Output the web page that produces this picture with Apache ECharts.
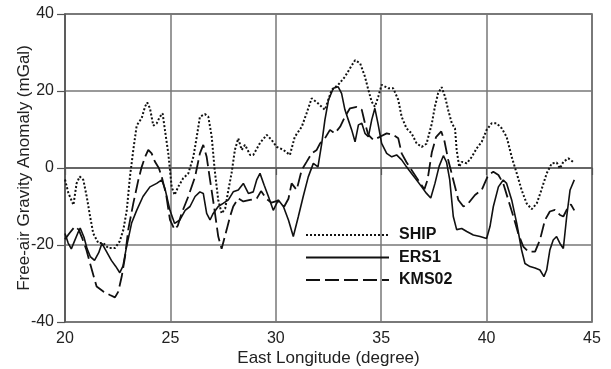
<!DOCTYPE html>
<html>
<head>
<meta charset="utf-8">
<script src="https://cdn.jsdelivr.net/npm/echarts@6/dist/echarts.min.js"></script>
<style>
  html, body { margin: 0; padding: 0; background: #fff; }
  #chart { width: 611px; height: 369px; }
</style>
</head>
<body>
<div id="chart"></div>
<script>
// SHIP profile (dotted)
const shipLon = [20.0, 20.16, 20.4, 20.55, 20.7, 20.87, 21.03, 21.19, 21.34, 21.58, 21.82, 22.05, 22.37, 22.6, 22.77, 22.93,
  23.08, 23.24, 23.4, 23.64, 23.8, 23.9, 24.03, 24.19, 24.35, 24.5, 24.63, 24.74, 24.9, 25.06, 25.2, 25.37, 25.6, 25.85,
  26.09, 26.25, 26.4, 26.64, 26.8, 26.96, 27.1, 27.27, 27.43, 27.6, 27.75, 27.9, 28.06, 28.22, 28.38, 28.54, 28.78, 28.93,
  29.1, 29.25, 29.57, 29.8, 30.04, 30.36, 30.67, 30.9, 31.23, 31.46, 31.7, 32.0, 32.33, 32.65, 32.96, 33.28, 33.52, 33.76,
  34.0, 34.23, 34.39, 34.55, 34.7, 34.86, 35.02, 35.34, 35.57, 35.81, 35.97, 36.2, 36.44, 36.68, 36.92, 37.15, 37.4, 37.55,
  37.7, 37.87, 38.03, 38.18, 38.35, 38.5, 38.58, 38.7, 38.82, 39.06, 39.3, 39.53, 39.77, 40.0, 40.24, 40.48, 40.72, 40.95,
  41.19, 41.43, 41.66, 41.9, 42.14, 42.38, 42.6, 42.85, 43.09, 43.33, 43.48, 43.64, 43.88, 44.1];
const shipVal = [-3, -6.5, -9.6, -4, -2.2, -3.1, -7.4, -12.6, -17, -19.5, -19.5, -20.8, -20.8, -19, -16, -11,
  -2.3, 4.7, 11, 13, 16, 17, 15.5, 11, 11.6, 13.3, 14.2, 9.9, 3.8, -4.9, -7, -4.9, -2.7, -1.4,
  2.9, 8.1, 13.3, 14, 13.3, 8.1, -0.5, -8.3, -11.8, -10.5, -5.7, -1.4, 4.7, 7.7, 4.7, 6, 3.4, 3.4,
  5, 6.5, 8.6, 7.3, 5.5, 4.7, 3.4, 8.1, 10.7, 14.2, 18.1, 16.8, 15.1, 20.3, 21.6, 23.7, 25.9, 28,
  27.2, 23.7, 20.3, 17.2, 15.9, 18.5, 21.6, 20.7, 20.7, 17.7, 13.3, 10.3, 9, 6.4, 5.5, 6.3, 11.5, 16,
  19.4, 21, 18.5, 15, 11.6, 10.3, 4.7, 0.3, 1.6, 1.2, 2.9, 5.1, 6.8, 9.9, 11.6, 11.6, 10.3, 8.1,
  2.9, -1.4, -5.7, -9.2, -10.7, -9.2, -5.7, -1.4, 1.2, 1.4, -0.1, 1.6, 2.5, 1.6];

// ERS1 profile (solid)
const ers1Lon = [20.0, 20.15, 20.3, 20.45, 20.6, 20.72, 20.9, 21.05, 21.2, 21.4, 21.6, 21.75, 21.95, 22.2, 22.4, 22.6,
  22.75, 22.9, 23.16, 23.4, 23.7, 24.03, 24.35, 24.59, 24.74, 24.98, 25.2, 25.45, 25.7, 25.93, 26.17, 26.4, 26.56, 26.72,
  26.88, 27.03, 27.27, 27.5, 27.75, 27.98, 28.22, 28.46, 28.7, 28.93, 29.1, 29.25, 29.45, 29.65, 29.88, 30.12, 30.36, 30.6,
  30.83, 31.07, 31.3, 31.54, 31.78, 32.0, 32.18, 32.33, 32.5, 32.73, 32.96, 33.12, 33.28, 33.44, 33.6, 33.76, 33.92, 34.08,
  34.23, 34.39, 34.55, 34.7, 34.86, 35.02, 35.26, 35.5, 35.73, 35.97, 36.2, 36.44, 36.68, 36.92, 37.15, 37.35, 37.55, 37.75,
  37.95, 38.1, 38.25, 38.42, 38.58, 38.82, 39.06, 39.37, 39.69, 40.0, 40.16, 40.32, 40.56, 40.79, 40.95, 41.19, 41.43, 41.66,
  41.82, 42.06, 42.3, 42.53, 42.72, 42.85, 43.0, 43.16, 43.32, 43.48, 43.64, 43.8, 43.96, 44.16];
const ers1Val = [-17, -19.5, -21, -19, -17, -15.6, -18, -21, -23, -24, -22, -19.6, -21.5, -24, -25.5, -27.2,
  -25.5, -21, -14.3, -11, -7.4, -4.9, -4, -3.1, -5.3, -11, -14.4, -13.5, -11, -10, -7.4, -6.2, -6.6, -11.8,
  -13.5, -11.8, -10, -9.2, -8.3, -6.2, -5.7, -4, -6.6, -6.2, -3, -1.4, -4.5, -7.4, -11, -8.3, -10, -13.5,
  -17.8, -12.6, -7.4, -2.3, 1.2, 0.3, 6.4, 12.5, 17.7, 20.7, 21.1, 19.4, 15.1, 12.5, 9.9, 6.8, 11.2, 11.6,
  9, 8.1, 12.5, 15.5, 11.2, 6.4, 3.8, 2.9, 3.4, 2.1, 0.3, -1.4, -3.1, -4.9, -6.6, -7.8, -4, 0.5,
  3.2, 1.5, -3, -12.6, -16, -15.7, -16.5, -17.4, -17.8, -18.3, -15.2, -10, -4.9, -3.1, -4, -8.3, -14.4, -21.3,
  -24.8, -25.6, -26, -26.5, -28.2, -26.5, -21.3, -18.7, -17.8, -19.6, -20.9, -12.6, -5.7, -3.1];

// KMS02 profile (dashed)
const kmsLon = [20.0, 20.2, 20.47, 20.65, 20.8, 21.0, 21.2, 21.5, 21.82, 22.13, 22.37, 22.53, 22.69, 22.85, 23.0, 23.24,
  23.48, 23.64, 23.8, 23.95, 24.11, 24.27, 24.45, 24.59, 24.8, 24.98, 25.2, 25.35, 25.53, 25.85, 26.17, 26.4, 26.56, 26.72,
  26.88, 27.07, 27.27, 27.43, 27.67, 27.83, 27.98, 28.22, 28.46, 28.78, 29.1, 29.3, 29.55, 29.8, 30.1, 30.4, 30.6, 30.75,
  30.99, 31.23, 31.46, 31.7, 31.94, 32.1, 32.33, 32.57, 32.8, 33.05, 33.28, 33.52, 33.84, 34.08, 34.23, 34.39, 34.63, 34.94,
  35.26, 35.57, 35.81, 35.97, 36.2, 36.44, 36.68, 36.92, 37.05, 37.2, 37.4, 37.6, 37.85, 38.0, 38.18, 38.42, 38.66, 38.9,
  39.13, 39.45, 39.77, 40.08, 40.32, 40.56, 40.79, 41.03, 41.27, 41.5, 41.74, 41.98, 42.3, 42.53, 42.77, 43.0, 43.24, 43.48,
  43.64, 43.88, 44.0, 44.16];
const kmsVal = [-18.5, -17, -15.2, -16, -18, -21, -25, -30.8, -32.1, -33, -33.6, -32.1, -28.2, -23, -16, -9.2,
  -3.1, 0.3, 2.9, 4.7, 3.8, 1.6, 0, -2.3, -7, -13.5, -16, -15, -11.8, -7.4, -2.3, 3.8, 6, 2.9,
  -3.1, -10, -17.8, -21, -16, -12.6, -10, -7.9, -8.7, -8.3, -7.9, -6, -8, -9, -8.5, -10, -8, -4,
  -5.7, -0.5, 1.6, 3.8, 4.7, 6.4, 7.7, 9.9, 9, 10.7, 13.3, 15.5, 15.9, 15.1, 11.6, 8.6, 7.3, 8.1,
  9, 8.6, 7.7, 3.8, 1.5, -0.5, -2.5, -4.5, -5.5, -3, 4, 8, 9.5, 7, 2.1, -3.1, -8.3, -10,
  -9.2, -7, -5.7, -1.8, -1, -1.8, -4, -8.3, -12.6, -17, -20.4, -21.7, -21.7, -18.7, -13.5, -11.3, -10.9, -12.2,
  -12.6, -10, -9.5, -11];

const pairs = (xs, ys) => xs.map((x, i) => [x, ys[i]]);

const chart = echarts.init(document.getElementById('chart'));
const font = 'Liberation Sans, Arial, sans-serif';

chart.setOption({
  animation: false,
  grid: {
    left: 65, right: 19, top: 14, bottom: 47,
    outerBoundsMode: 'none',
    containLabel: false,
    show: true, borderColor: '#555', borderWidth: 1.5
  },
  legend: {
    orient: 'vertical',
    left: 300,
    top: 222,
    itemWidth: 83,
    itemHeight: 14,
    itemGap: 6.5,
    selectedMode: false,
    itemStyle: { opacity: 0 },
    textStyle: { fontFamily: font, fontSize: 16, fontWeight: 'bold', color: '#111', padding: [0, 0, 0, 5] },
    data: ['SHIP', 'ERS1', 'KMS02']
  },
  xAxis: {
    type: 'value',
    min: 20, max: 45, interval: 5,
    name: 'East Longitude (degree)',
    nameLocation: 'middle',
    nameGap: 28,
    nameMoveOverlap: false,
    nameTextStyle: { fontFamily: font, fontSize: 17, color: '#222' },
    axisLine: { show: true, lineStyle: { color: '#555', width: 1.5 } },
    axisTick: { show: true, length: 7, lineStyle: { color: '#555', width: 1.2 } },
    axisLabel: { fontFamily: font, fontSize: 16, color: '#222', margin: 9 },
    splitLine: { show: true, lineStyle: { color: '#777', width: 1.5 } }
  },
  yAxis: {
    type: 'value',
    min: -40, max: 40, interval: 20,
    name: 'Free-air Gravity Anomaly (mGal)',
    nameLocation: 'middle',
    nameGap: 32,
    nameMoveOverlap: false,
    nameTextStyle: { fontFamily: font, fontSize: 17, color: '#222' },
    axisLine: { show: true, lineStyle: { color: '#555', width: 1.5 } },
    axisTick: { show: true, length: 8, lineStyle: { color: '#555', width: 1.2 } },
    axisLabel: { fontFamily: font, fontSize: 16, color: '#222', margin: 11 },
    splitLine: { show: true, lineStyle: { color: '#777', width: 1.5 } }
  },
  series: [
    {
      name: 'SHIP', type: 'line', symbol: 'none', smooth: false,
      lineStyle: { color: '#111', width: 2, type: [2, 2] },
      itemStyle: { color: '#111' },
      data: pairs(shipLon, shipVal)
    },
    {
      name: 'ERS1', type: 'line', symbol: 'none', smooth: false,
      lineStyle: { color: '#111', width: 1.6, type: 'solid' },
      itemStyle: { color: '#111' },
      data: pairs(ers1Lon, ers1Val)
    },
    {
      name: 'KMS02', type: 'line', symbol: 'none', smooth: false,
      lineStyle: { color: '#111', width: 1.8, type: [14, 5] },
      itemStyle: { color: '#111' },
      data: pairs(kmsLon, kmsVal)
    }
  ]
});
</script>
</body>
</html>
